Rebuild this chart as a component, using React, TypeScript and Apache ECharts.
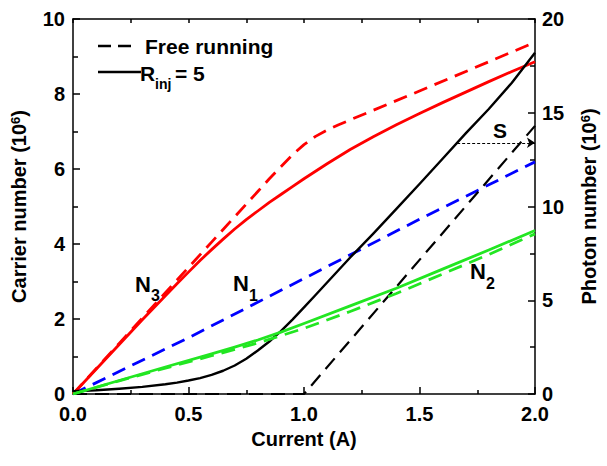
import React, { useEffect, useRef } from "react";
import * as echarts from "echarts";

const FONT = '"Liberation Sans", Arial, Helvetica, sans-serif';

// x: current (A), y: carrier number (10^6) or photon number (10^6)
const n3Free: number[][] = [[0, 0], [0.2, 1.35], [0.4, 2.7], [0.6, 4.05], [0.8, 5.4], [0.85, 5.74], [0.9, 6.06], [0.95, 6.38], [1.0, 6.65], [1.05, 6.87], [1.1, 7.04], [1.15, 7.18], [1.2, 7.31], [1.5, 8.08], [2.0, 9.38]];
const n3Inj: number[][] = [[0, 0], [0.1, 0.66], [0.2, 1.32], [0.3, 1.98], [0.4, 2.62], [0.45, 2.94], [0.5, 3.25], [0.55, 3.56], [0.6, 3.85], [0.65, 4.13], [0.7, 4.4], [0.75, 4.65], [0.8, 4.88], [0.85, 5.11], [0.9, 5.32], [0.95, 5.53], [1.0, 5.74], [1.1, 6.14], [1.2, 6.52], [1.3, 6.86], [1.4, 7.18], [1.5, 7.48], [1.6, 7.77], [1.7, 8.05], [1.8, 8.33], [1.9, 8.6], [2.0, 8.86]];
const n1Free: number[][] = [[0, 0], [0.5, 1.5], [1.0, 3.08], [1.5, 4.66], [2.0, 6.19]];
const n2Inj: number[][] = [[0, 0], [0.2, 0.36], [0.4, 0.72], [0.6, 1.07], [0.7, 1.25], [0.8, 1.44], [0.9, 1.65], [1.0, 1.88], [1.2, 2.35], [1.4, 2.82], [1.6, 3.33], [1.8, 3.84], [2.0, 4.36]];
const n2Free: number[][] = [[0, 0], [0.2, 0.35], [0.4, 0.69], [0.6, 1.02], [0.8, 1.36], [1.0, 1.75], [1.2, 2.2], [1.4, 2.68], [1.6, 3.2], [1.8, 3.72], [2.0, 4.27]];
const sInj: number[][] = [[0, 0.15], [0.1, 0.2], [0.2, 0.28], [0.3, 0.38], [0.4, 0.52], [0.45, 0.61], [0.5, 0.72], [0.55, 0.85], [0.6, 1.02], [0.65, 1.24], [0.7, 1.52], [0.75, 1.88], [0.8, 2.32], [0.85, 2.8], [0.9, 3.35], [0.95, 3.97], [1.0, 4.62], [1.05, 5.28], [1.1, 5.95], [1.2, 7.28], [1.3, 8.55], [1.4, 9.87], [1.5, 11.2], [1.6, 12.55], [1.7, 13.9], [1.8, 15.2], [1.9, 16.6], [2.0, 18.2]];
const sFree: number[][] = [[0, 0], [1.0, 0], [2.0, 14.3]];
const sArrowY = 13.4;
const sArrowX = [1.663, 2.0];

const RED = "#ff0000";
const BLUE = "#0000ff";
const GREEN = "#22e622";
const BLACK = "#000000";

const bold = { fontFamily: FONT, fontWeight: "bold" as const, color: "#000" };

export default function App() {
  const ref = useRef<HTMLDivElement>(null);
  useEffect(() => {
    if (!ref.current) return;
    const chart = echarts.init(ref.current, null, { renderer: "svg" });
    const axisLine = { show: true, onZero: false, lineStyle: { color: "#000", width: 1.5 } };
    const dash = [14, 8];
    const line = (name: string, data: number[][], color: string, dashed: boolean, yAxisIndex = 0, extra: any = {}) => ({
      name,
      type: "line",
      data,
      yAxisIndex,
      showSymbol: false,
      symbol: "none",
      smooth: false,
      lineStyle: { color, width: 2.8, type: dashed ? dash : "solid", join: "round" },
      silent: true,
      ...extra,
    });
    const option: any = {
      animation: false,
      backgroundColor: "#fff",
      grid: { left: 73, right: 71, top: 19, bottom: 72 },
      xAxis: [
        {
          type: "value", min: 0, max: 2, interval: 0.5, position: "bottom",
          axisLine, splitLine: { show: false },
          axisTick: { show: true, inside: true, length: 7, lineStyle: { color: "#000", width: 1.5 } },
          minorTick: { show: true, splitNumber: 2, length: 4, lineStyle: { color: "#000", width: 1.5 } },
          axisLabel: { ...bold, fontSize: 20, margin: 10, formatter: (v: number) => v.toFixed(1) },
          name: "Current (A)", nameLocation: "middle", nameGap: 34,
          nameTextStyle: { ...bold, fontSize: 20 },
        },
        {
          type: "value", min: 0, max: 2, interval: 0.25, position: "top",
          axisLine, splitLine: { show: false },
          axisTick: { show: true, inside: true, length: 4, lineStyle: { color: "#000", width: 1.5 } },
          axisLabel: { show: false },
        },
      ],
      yAxis: [
        {
          type: "value", min: 0, max: 10, interval: 2, position: "left",
          axisLine, splitLine: { show: false },
          axisTick: { show: true, inside: true, length: 7, lineStyle: { color: "#000", width: 1.5 } },
          minorTick: { show: true, splitNumber: 2, length: 5, lineStyle: { color: "#000", width: 1.5 } },
          axisLabel: { ...bold, fontSize: 20, margin: 8 },
          name: "Carrier number (10{sup|6})", nameLocation: "middle", nameGap: 44, nameRotate: 90,
          nameTextStyle: { ...bold, fontSize: 20, rich: { sup: { ...bold, fontSize: 13, verticalAlign: "top", lineHeight: 12 } } },
        },
        {
          type: "value", min: 0, max: 20, interval: 5, position: "right",
          axisLine, splitLine: { show: false },
          axisTick: { show: true, inside: true, length: 7, lineStyle: { color: "#000", width: 1.5 } },
          minorTick: { show: true, splitNumber: 2, length: 5, lineStyle: { color: "#000", width: 1.5 } },
          axisLabel: { ...bold, fontSize: 20, margin: 7 },
          name: "Photon number (10{sup|6})", nameLocation: "middle", nameGap: 44, nameRotate: 90,
          nameTextStyle: { ...bold, fontSize: 20, rich: { sup: { ...bold, fontSize: 13, verticalAlign: "top", lineHeight: 12 } } },
        },
      ],
      series: [
        line("N1 free", n1Free, BLUE, true),
        line("N3 free", n3Free, RED, true),
        line("N3 inj", n3Inj, RED, false),
        line("S free", sFree, BLACK, true, 1, { lineStyle: { color: BLACK, width: 2.2, type: dash } }),
        line("S inj", sInj, BLACK, false, 1, {
          lineStyle: { color: BLACK, width: 2.4, join: "round" },
          markLine: {
            silent: true,
            symbol: ["none", "arrow"],
            symbolSize: 8,
            label: { show: false },
            lineStyle: { color: BLACK, width: 1, type: [3, 2] },
            data: [[{ coord: [sArrowX[0], sArrowY] }, { coord: [sArrowX[1], sArrowY] }]],
          },
        }),
        line("N2 free", n2Free, GREEN, true),
        line("N2 inj", n2Inj, GREEN, false),
      ],
      graphic: [
        { type: "line", shape: { x1: 98, y1: 46, x2: 131, y2: 46 }, style: { stroke: "#000", lineWidth: 2.4, lineDash: [13, 7] } },
        { type: "line", shape: { x1: 98, y1: 72, x2: 141, y2: 72 }, style: { stroke: "#000", lineWidth: 2.4 } },
        { type: "text", x: 145, y: 46, style: { text: "Free running", font: `bold 21px ${FONT}`, fill: "#000", verticalAlign: "middle", align: "left" } },
        { type: "text", x: 140, y: 73, style: { text: "R", font: `bold 21px ${FONT}`, fill: "#000", verticalAlign: "middle", align: "left" } },
        { type: "text", x: 155, y: 84, style: { text: "inj", font: `bold 14px ${FONT}`, fill: "#000", verticalAlign: "middle", align: "left" } },
        { type: "text", x: 175, y: 73, style: { text: "= 5", font: `bold 21px ${FONT}`, fill: "#000", verticalAlign: "middle", align: "left" } },
        { type: "text", x: 135, y: 284, style: { text: "N", font: `bold 22px ${FONT}`, fill: "#000", verticalAlign: "middle", align: "left" } },
        { type: "text", x: 151, y: 295, style: { text: "3", font: `bold 16px ${FONT}`, fill: "#000", verticalAlign: "middle", align: "left" } },
        { type: "text", x: 233, y: 283, style: { text: "N", font: `bold 22px ${FONT}`, fill: "#000", verticalAlign: "middle", align: "left" } },
        { type: "text", x: 249, y: 295, style: { text: "1", font: `bold 16px ${FONT}`, fill: "#000", verticalAlign: "middle", align: "left" } },
        { type: "text", x: 470, y: 271, style: { text: "N", font: `bold 22px ${FONT}`, fill: "#000", verticalAlign: "middle", align: "left" } },
        { type: "text", x: 486, y: 283, style: { text: "2", font: `bold 16px ${FONT}`, fill: "#000", verticalAlign: "middle", align: "left" } },
        { type: "text", x: 500, y: 130, style: { text: "S", font: `bold 21px ${FONT}`, fill: "#000", verticalAlign: "middle", align: "center" } },
      ],
    };
    chart.setOption(option);
    return () => chart.dispose();
  }, []);
  return <div ref={ref} style={{ position: "fixed", left: 0, top: 0, width: 607, height: 466, background: "#fff" }} />;
}
